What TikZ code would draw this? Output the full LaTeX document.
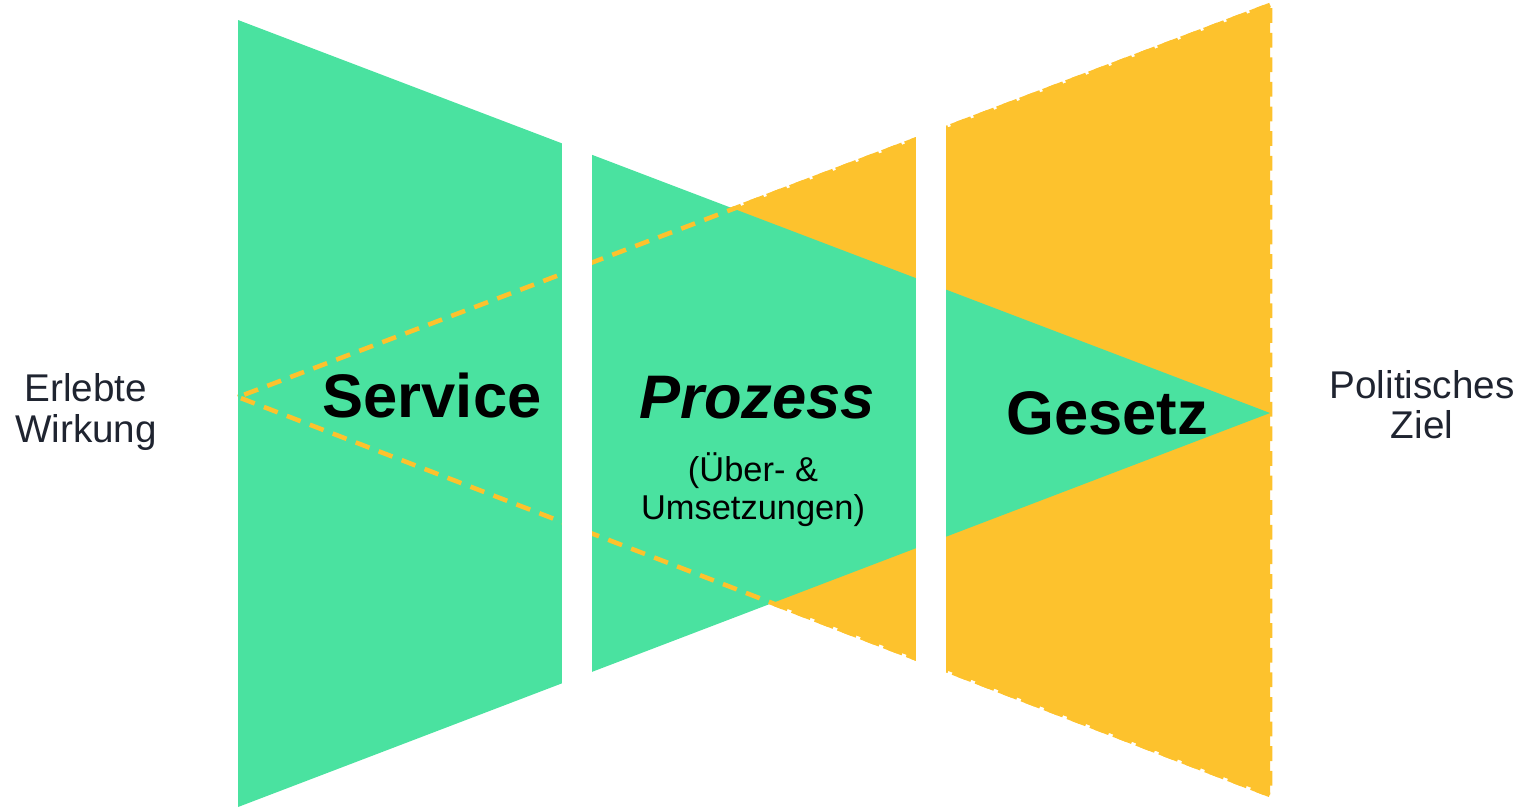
\documentclass[tikz,border=0pt]{standalone}
\usepackage{fontspec}
\setmainfont{Liberation Sans}
\definecolor{gruen}{HTML}{4AE2A0}
\definecolor{gelb}{HTML}{FDC22D}
\definecolor{dunkel}{HTML}{1F2430}
\tikzset{
  rand/.style={gelb,line width=1.3pt,dash pattern=on 4.2pt off 2.8pt},
  titel/.style={font=\bfseries\fontsize{17.5}{20}\selectfont},
  seite/.style={text=dunkel,align=center,font=\fontsize{11}{11.4}\selectfont},
}
\begin{document}
\begin{tikzpicture}
\useasboundingbox(0,0)rectangle(15.28,8.07);
\coordinate(y1)at(2.38,4.10);
\coordinate(y2)at(12.70,8.02);
\coordinate(y3)at(12.70,0.12);
\coordinate(g1)at(2.38,7.87);
\coordinate(g2)at(12.70,3.94);
\coordinate(g3)at(2.38,0);
\fill[gelb](y1)--(y2)--(y3)--cycle;
\draw[rand](y1)--(y2)--(y3)--cycle;
\fill[gruen](g1)--(g2)--(g3)--cycle;
\draw[rand](y2)--(y1)--(y3);
\fill[white](5.62,0)rectangle(5.92,8.07);
\fill[white](9.16,0)rectangle(9.46,8.07);
\node[seite](n1)at(0.86,3.95){Erlebte\\Wirkung};
\node[seite](n2)at(14.22,4.02){Politisches\\Ziel};
\node[titel](n3)at(4.32,4.11){Service};
\node[titel,font=\bfseries\itshape\fontsize{17.5}{20}\selectfont](n4)at(7.57,4.09){Prozess};
\node[align=center,font=\fontsize{9.8}{10.8}\selectfont](n5)at(7.53,3.17){(Über- \&\\Umsetzungen)};
\node[titel](n6)at(11.07,3.94){Gesetz};
\end{tikzpicture}
\end{document}
